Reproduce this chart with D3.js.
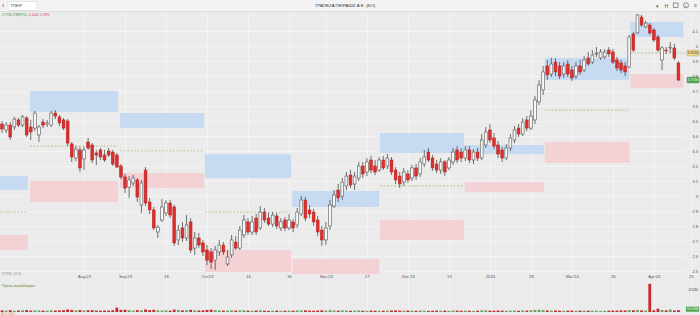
<!DOCTYPE html>
<html>
<head>
<meta charset="utf-8">
<script src="https://cdnjs.cloudflare.com/ajax/libs/d3/7.8.5/d3.min.js"></script>
<style>
body { margin: 0; background: #ebebeb; }
svg { display: block; font-family: "Liberation Sans", Arial, sans-serif; }
</style>
</head>
<body>
<div id="chart"></div>
<script>
// daily candles, TPEIR
var open = [
  3.480,3.440,3.473,3.460,3.507,3.473,3.520,3.460,3.453,3.407,
  3.493,3.480,3.473,3.553,3.527,3.507,3.500,3.347,3.253,3.307,
  3.247,3.360,3.340,3.287,3.307,3.273,3.300,3.293,3.273,3.200,
  3.127,3.060,3.087,3.107,2.940,3.173,2.960,2.907,2.760,2.840,
  2.887,2.953,2.927,2.707,2.787,2.720,2.827,2.653,2.720,2.687,
  2.640,2.627,2.573,2.627,2.673,2.547,2.607,2.693,2.653,2.740,
  2.827,2.760,2.853,2.787,2.893,2.853,2.813,2.867,2.787,2.840,
  2.787,2.827,2.807,2.880,2.973,2.907,2.893,2.840,2.773,2.707,
  2.800,2.933,3.040,3.000,3.067,3.140,3.080,3.120,3.200,3.160,
  3.240,3.200,3.173,3.240,3.200,3.240,3.173,3.133,3.093,3.147,
  3.120,3.187,3.147,3.213,3.293,3.253,3.213,3.173,3.227,3.187,
  3.227,3.307,3.293,3.253,3.307,3.240,3.293,3.253,3.340,3.440,
  3.387,3.340,3.307,3.253,3.320,3.373,3.453,3.413,3.507,3.453,
  3.507,3.627,3.707,3.867,3.813,3.893,3.867,3.813,3.880,3.840,
  3.800,3.867,3.840,3.920,3.893,3.947,3.920,3.927,3.973,3.960,
  3.907,3.887,3.867,3.860,4.080,4.087,4.193,4.127,4.140,4.107,
  4.060,3.907,3.973,3.987,3.987,3.887
];
var high = [
  3.500,3.493,3.493,3.527,3.520,3.540,3.533,3.507,3.567,3.473,
  3.513,3.507,3.567,3.573,3.540,3.520,3.513,3.360,3.333,3.327,
  3.327,3.387,3.353,3.307,3.320,3.307,3.320,3.307,3.287,3.213,
  3.147,3.133,3.140,3.120,3.107,3.193,2.987,2.927,2.807,2.980,
  2.973,2.973,2.940,2.807,2.827,2.873,2.853,2.760,2.753,2.707,
  2.673,2.653,2.667,2.707,2.693,2.640,2.740,2.733,2.800,2.873,
  2.853,2.867,2.880,2.933,2.920,2.887,2.893,2.887,2.853,2.860,
  2.880,2.847,2.920,3.000,2.993,2.940,2.913,2.867,2.800,2.827,
  2.973,3.040,3.080,3.120,3.160,3.173,3.160,3.227,3.227,3.253,
  3.267,3.240,3.260,3.267,3.280,3.260,3.193,3.160,3.187,3.173,
  3.207,3.213,3.253,3.307,3.320,3.273,3.240,3.253,3.240,3.260,
  3.320,3.333,3.320,3.333,3.333,3.313,3.320,3.413,3.460,3.480,
  3.420,3.367,3.327,3.347,3.413,3.467,3.480,3.520,3.533,3.573,
  3.667,3.773,3.867,3.907,3.920,3.920,3.893,3.893,3.907,3.867,
  3.893,3.907,3.933,3.960,3.973,3.993,3.980,3.980,3.993,3.980,
  3.927,3.907,3.893,4.073,4.093,4.213,4.207,4.167,4.153,4.120,
  4.073,4.000,3.993,4.027,4.013,3.900
];
var low = [
  3.420,3.420,3.373,3.440,3.460,3.460,3.393,3.373,3.433,3.360,
  3.453,3.460,3.460,3.513,3.467,3.440,3.333,3.227,3.233,3.160,
  3.173,3.307,3.220,3.207,3.240,3.227,3.260,3.200,3.187,3.113,
  3.020,2.987,3.067,2.960,2.887,2.933,2.880,2.773,2.720,2.827,
  2.867,2.853,2.667,2.673,2.693,2.700,2.620,2.607,2.653,2.600,
  2.540,2.513,2.507,2.600,2.607,2.533,2.587,2.640,2.640,2.720,
  2.740,2.740,2.740,2.773,2.820,2.800,2.793,2.780,2.767,2.767,
  2.773,2.760,2.787,2.867,2.833,2.853,2.800,2.733,2.667,2.673,
  2.773,2.920,2.960,2.973,3.040,3.053,3.040,3.100,3.120,3.133,
  3.153,3.140,3.160,3.173,3.180,3.140,3.080,3.053,3.067,3.087,
  3.100,3.107,3.127,3.193,3.227,3.167,3.153,3.147,3.133,3.173,
  3.207,3.220,3.227,3.233,3.220,3.213,3.233,3.240,3.320,3.353,
  3.313,3.253,3.227,3.240,3.300,3.353,3.393,3.400,3.433,3.440,
  3.480,3.607,3.673,3.773,3.793,3.800,3.780,3.787,3.793,3.767,
  3.780,3.807,3.827,3.867,3.880,3.927,3.907,3.913,3.927,3.880,
  3.833,3.820,3.800,3.853,3.960,4.080,4.127,4.120,4.073,4.027,
  3.960,3.840,3.947,3.953,3.907,3.767
];
var close = [
  3.447,3.473,3.393,3.513,3.473,3.527,3.407,3.427,3.553,3.460,
  3.473,3.487,3.553,3.533,3.487,3.453,3.353,3.260,3.313,3.187,
  3.307,3.320,3.240,3.273,3.260,3.240,3.273,3.213,3.193,3.127,
  3.053,3.107,3.120,2.993,3.087,2.953,2.907,2.787,2.793,2.927,
  2.953,2.873,2.687,2.773,2.720,2.807,2.640,2.720,2.673,2.627,
  2.573,2.560,2.640,2.673,2.627,2.593,2.707,2.653,2.773,2.840,
  2.760,2.827,2.760,2.893,2.840,2.813,2.873,2.800,2.827,2.787,
  2.840,2.787,2.893,2.973,2.853,2.880,2.827,2.760,2.707,2.787,
  2.940,3.007,2.987,3.093,3.133,3.073,3.133,3.200,3.147,3.227,
  3.173,3.160,3.240,3.187,3.253,3.160,3.107,3.080,3.160,3.107,
  3.187,3.133,3.227,3.260,3.240,3.187,3.173,3.227,3.160,3.240,
  3.293,3.240,3.253,3.307,3.240,3.293,3.253,3.373,3.427,3.373,
  3.333,3.280,3.253,3.320,3.387,3.440,3.413,3.493,3.453,3.533,
  3.640,3.740,3.827,3.807,3.880,3.827,3.800,3.867,3.813,3.787,
  3.867,3.827,3.907,3.880,3.940,3.953,3.960,3.960,3.947,3.893,
  3.853,3.840,3.827,4.060,3.973,4.207,4.140,4.153,4.087,4.040,
  3.973,3.987,3.967,3.993,3.920,3.773
];
// volume, millions
var volume = [
  14,12,16,11,13,15,17,12,14,13,
  12,11,15,13,14,16,22,18,14,17,
  13,15,16,12,11,13,12,15,38,18,
  20,16,12,17,15,22,16,19,14,13,
  15,12,21,17,14,16,19,15,13,14,
  18,20,16,14,12,13,15,12,14,16,
  12,11,13,15,12,10,11,12,10,11,
  12,11,14,13,15,12,11,13,15,12,
  16,13,12,14,13,11,12,14,11,10,
  12,11,10,11,12,13,14,12,11,13,
  12,11,13,12,10,11,12,11,12,10,
  13,12,11,12,11,10,11,14,15,12,
  11,13,12,11,12,13,11,14,12,15,
  18,20,17,14,12,13,12,11,12,13,
  11,12,13,12,11,12,10,11,12,13,
  12,14,13,17,15,18,14,13,245,15,
  29,17,14,21,13,16
];

var xTickIdx = [20, 30, 40, 50, 60, 70, 79, 89, 99, 109, 119, 129, 139, 149, 159, 168];
var xTickLabels = ["Aug'23", "Sep'23", "18", "Oct'23", "16", "30", "Nov'23", "27",
                   "Dec'23", "15", "2024", "29", "Mar'24", "26", "Apr'24", "25"];
var priceTicks = [2.5, 2.6, 2.7, 2.8, 2.9, 3.0, 3.1, 3.2, 3.3, 3.4, 3.5, 3.6, 3.7, 3.8, 3.9, 4.0, 4.1];

// monthly zones
var zoneStart = [-0.5, 6.8, 28.8, 49.5, 70.8, 92.2, 112.9, 132.4, 153.3];
var zoneEnd   = [6.3, 28.3, 49.3, 70.5, 92.0, 112.7, 132.2, 153.0, 166.2];
var blueTop   = [3.133, 3.700, 3.553, 3.280, 3.033, 3.420, 3.340, 3.920, 4.160];
var blueBot   = [3.040, 3.560, 3.453, 3.120, 2.927, 3.287, 3.280, 3.773, 4.060];
var pinkTop   = [2.740, 3.100, 3.153, 2.640, 2.580, 2.840, 3.093, 3.360, 3.813];
var pinkBot   = [2.640, 2.960, 3.053, 2.493, 2.480, 2.707, 3.027, 3.220, 3.720];
var midLine   = [2.893, 3.333, 3.300, 2.893, null, 3.067, null, 3.573, 3.953];

var width = 700, height = 315;
var plotRight = 686;

var svg = d3.select("#chart")
    .append("svg")
    .attr("width", width)
    .attr("height", height);

svg.append("rect")
    .attr("width", width)
    .attr("height", height)
    .attr("fill", "#ebebeb");

var x = d3.scaleLinear().domain([-0.5, 165.5]).range([0, 680.5]);
var y = d3.scaleLinear().domain([2.5, 4.1]).range([271, 31]);
var yv = d3.scaleLinear().domain([0, 252]).range([312, 283]);

svg.append("defs").append("clipPath")
    .attr("id", "pane")
    .append("rect")
    .attr("x", 0).attr("y", 11)
    .attr("width", plotRight).attr("height", 263);

// grid
svg.append("g")
    .selectAll("line")
    .data(priceTicks)
    .enter()
    .append("line")
    .attr("x1", 0).attr("x2", plotRight)
    .attr("y1", function(d) { return Math.round(y(d)) + 0.5; })
    .attr("y2", function(d) { return Math.round(y(d)) + 0.5; })
    .attr("stroke", "#f6f6f6")
    .attr("stroke-width", 0.7);

svg.append("g")
    .selectAll("line")
    .data(xTickIdx)
    .enter()
    .append("line")
    .attr("x1", function(d) { return Math.round(x(d)) + 0.5; })
    .attr("x2", function(d) { return Math.round(x(d)) + 0.5; })
    .attr("y1", 12).attr("y2", 313)
    .attr("stroke", "#f6f6f6")
    .attr("stroke-width", 0.7);

var pane = svg.append("g").attr("clip-path", "url(#pane)");

var zones = d3.range(zoneStart.length);

pane.selectAll(".blue")
    .data(zones)
    .enter()
    .append("rect")
    .attr("x", function(i) { return x(zoneStart[i]); })
    .attr("width", function(i) { return x(zoneEnd[i]) - x(zoneStart[i]); })
    .attr("y", function(i) { return y(blueTop[i]); })
    .attr("height", function(i) { return y(blueBot[i]) - y(blueTop[i]); })
    .attr("fill", "#c6dbf1");

pane.selectAll(".pink")
    .data(zones)
    .enter()
    .append("rect")
    .attr("x", function(i) { return x(zoneStart[i]); })
    .attr("width", function(i) { return x(zoneEnd[i]) - x(zoneStart[i]); })
    .attr("y", function(i) { return y(pinkTop[i]); })
    .attr("height", function(i) { return y(pinkBot[i]) - y(pinkTop[i]); })
    .attr("fill", "#f3d1d5");

pane.selectAll(".mid")
    .data(zones.filter(function(i) { return midLine[i] !== null; }))
    .enter()
    .append("line")
    .attr("x1", function(i) { return x(zoneStart[i]); })
    .attr("x2", function(i) { return i === zones.length - 1 ? plotRight : x(zoneEnd[i]); })
    .attr("y1", function(i) { return y(midLine[i]); })
    .attr("y2", function(i) { return y(midLine[i]); })
    .attr("stroke", "#b3a774")
    .attr("stroke-width", 0.7)
    .attr("stroke-dasharray", "2,1.5");

// candles
var idx = d3.range(open.length);

pane.selectAll(".wick")
    .data(idx)
    .enter()
    .append("line")
    .attr("x1", function(i) { return x(i); })
    .attr("x2", function(i) { return x(i); })
    .attr("y1", function(i) { return y(high[i]); })
    .attr("y2", function(i) { return y(low[i]); })
    .attr("stroke", "#3a3a3a")
    .attr("stroke-width", 0.7);

pane.selectAll(".body")
    .data(idx)
    .enter()
    .append("rect")
    .attr("x", function(i) { return x(i) - 1.4; })
    .attr("width", 2.8)
    .attr("y", function(i) { return y(Math.max(open[i], close[i])); })
    .attr("height", function(i) { return Math.max(0.7, Math.abs(y(open[i]) - y(close[i]))); })
    .attr("fill", function(i) { return close[i] < open[i] ? "#d92f2f" : "#f7f7f7"; })
    .attr("stroke", function(i) { return close[i] < open[i] ? "#c12222" : "#4a4a4a"; })
    .attr("stroke-width", 0.55);

// volume
svg.append("g")
    .selectAll("rect")
    .data(idx)
    .enter()
    .append("rect")
    .attr("x", function(i) { return x(i) - 1.4; })
    .attr("width", 2.8)
    .attr("y", function(i) { return yv(volume[i]); })
    .attr("height", function(i) { return yv(0) - yv(volume[i]); })
    .attr("fill", function(i) { return close[i] < open[i] ? "#c62a2a" : "#6f9f62"; });

// axes
var fmtPrice = function(d) { return String(+d.toFixed(1)); };

var yAxis = svg.append("g")
    .attr("transform", "translate(" + plotRight + ",0)")
    .call(d3.axisRight(y).tickValues(priceTicks).tickSize(0).tickPadding(0).tickFormat(fmtPrice));
yAxis.select(".domain").remove();
yAxis.selectAll("text")
    .attr("x", 12)
    .attr("text-anchor", "end")
    .attr("font-size", 4.2)
    .attr("fill", "#555");

var xAxis = svg.append("g")
    .attr("transform", "translate(0,274)")
    .call(d3.axisBottom(x).tickValues(xTickIdx).tickSize(0).tickPadding(1.2)
        .tickFormat(function(d, i) { return xTickLabels[i]; }));
xAxis.select(".domain").remove();
xAxis.selectAll("text")
    .attr("font-size", 4.2)
    .attr("fill", "#555");

var vAxis = svg.append("g")
    .attr("transform", "translate(" + plotRight + ",0)")
    .call(d3.axisRight(yv).tickValues([200]).tickSize(0).tickPadding(0)
        .tickFormat(function(d) { return d + "M"; }));
vAxis.select(".domain").remove();
vAxis.selectAll("text")
    .attr("x", 12)
    .attr("text-anchor", "end")
    .attr("font-size", 3.8)
    .attr("fill", "#555");

// price tags
function tag(value, fill, stroke, color, label) {
    var g = svg.append("g").attr("transform", "translate(687," + y(value) + ")");
    g.append("rect")
        .attr("x", 0).attr("y", -2.8)
        .attr("width", 12).attr("height", 5.6)
        .attr("rx", 0.8)
        .attr("fill", fill)
        .attr("stroke", stroke)
        .attr("stroke-width", 0.5);
    g.append("text")
        .attr("x", 6).attr("y", 1.3)
        .attr("text-anchor", "middle")
        .attr("font-size", 3.6)
        .attr("fill", color)
        .text(label);
}
tag(midLine[midLine.length - 1], "#efd98c", "#b8a048", "#333", d3.format(".4f")(midLine[midLine.length - 1]));
tag(close[close.length - 1], "#45a349", "#2e7d32", "#fff", d3.format(".4f")(close[close.length - 1]));

var vt = svg.append("g").attr("transform", "translate(686," + (yv(volume[volume.length - 1]) - 1) + ")");
vt.append("rect")
    .attr("y", -2.5).attr("width", 13).attr("height", 5)
    .attr("fill", "#45a349");
vt.append("text")
    .attr("x", 6.5).attr("y", 1.2)
    .attr("text-anchor", "middle")
    .attr("font-size", 3.4)
    .attr("fill", "#fff")
    .text(d3.format(".2f")(volume[volume.length - 1]) + "M");

// labels in the panes
svg.append("text")
    .attr("x", 2).attr("y", 274.5)
    .attr("font-size", 3.6).attr("fill", "#8a8a8a")
    .text("ΣΤΡ.Ε. (0.5)");

svg.append("text")
    .attr("x", 2).attr("y", 287)
    .attr("font-size", 3.8).attr("fill", "#5f7f2f")
    .text("Όγκος συναλλαγών");

svg.append("text")
    .attr("x", 1).attr("y", 314.6)
    .attr("font-size", 3.2).attr("fill", "#e08a2a")
    .text("Μ.Ο. (20)");

// top bar
svg.append("rect")
    .attr("width", width).attr("height", 11)
    .attr("fill", "#f3f3f3");
svg.append("line")
    .attr("x1", 0).attr("x2", width)
    .attr("y1", 11.5).attr("y2", 11.5)
    .attr("stroke", "#d6d6d6")
    .attr("stroke-width", 0.6);

svg.append("text")
    .attr("x", 2).attr("y", 8.3)
    .attr("font-size", 7).attr("fill", "#555")
    .text("‹");
svg.append("rect")
    .attr("x", 8).attr("y", 1.5)
    .attr("width", 29).attr("height", 9)
    .attr("rx", 1)
    .attr("fill", "#fff")
    .attr("stroke", "#cfcfcf")
    .attr("stroke-width", 0.5);
svg.append("text")
    .attr("x", 10.5).attr("y", 7.4)
    .attr("font-size", 4).attr("fill", "#444")
    .text("ΤΠΕΙΡ");

svg.append("text")
    .attr("x", 345).attr("y", 7)
    .attr("text-anchor", "middle")
    .attr("font-size", 4.4).attr("fill", "#333")
    .text("ΤΡΑΠΕΖΑ ΠΕΙΡΑΙΩΣ Α.Ε. (ΚΟ)");

var icons = svg.append("g").attr("fill", "#555").attr("font-size", 5);
icons.append("text").attr("x", 655.5).attr("y", 7.5).text("▾");
icons.append("text").attr("x", 664.5).attr("y", 7.5).text("H");
icons.append("rect").attr("x", 673.5).attr("y", 3).attr("width", 4.5).attr("height", 4.5)
    .attr("fill", "none").attr("stroke", "#555").attr("stroke-width", 0.6);
icons.append("circle").attr("cx", 686).attr("cy", 5.3).attr("r", 2.6)
    .attr("fill", "none").attr("stroke", "#555").attr("stroke-width", 0.6);
icons.append("text").attr("x", 684.6).attr("y", 6.8).attr("font-size", 3.5).text("=");
icons.append("text").attr("x", 694).attr("y", 7.3).text("≡");

svg.append("text")
    .attr("x", 2).attr("y", 15.6)
    .attr("font-size", 3.2).attr("fill", "#3f8f3f")
    .text("3.7730 ΤΠΕΙΡ(%)");
svg.append("text")
    .attr("x", 28).attr("y", 15.6)
    .attr("font-size", 3.2).attr("fill", "#d24040")
    .text("-0.1140 -2.93%");
</script>
</body>
</html>
